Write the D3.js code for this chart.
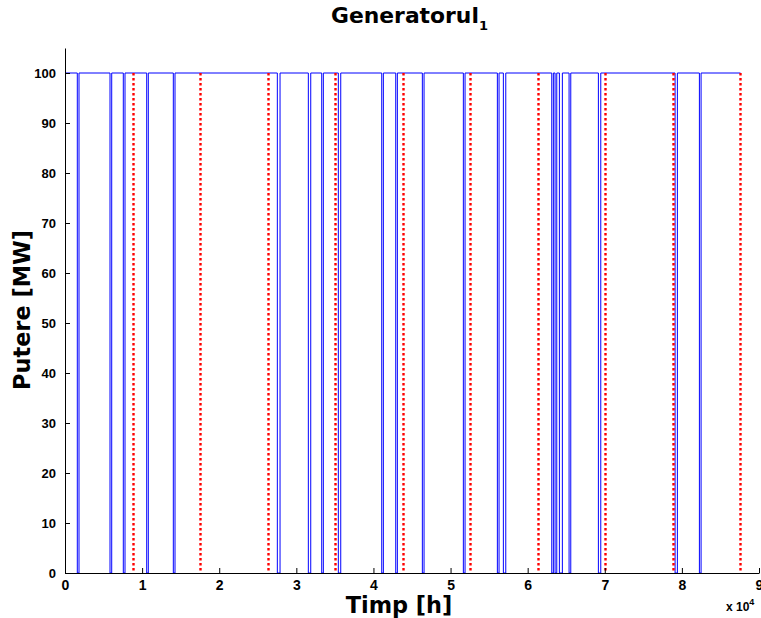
<!DOCTYPE html>
<html><head><meta charset="utf-8">
<script src="https://cdn.jsdelivr.net/npm/d3@7"></script>
<style>body{margin:0;background:#fff}svg{display:block;font-family:"Liberation Sans",Arial,sans-serif}</style>
</head><body>
<svg id="c" width="761" height="618"></svg>
<script>
const title = "Generatorul";
const titleSub = "1";
const xLabel = "Timp [h]";
const yLabel = "Putere [MW]";
const xTicks = [0,10000,20000,30000,40000,50000,60000,70000,80000,90000];
const xTickLabels = ["0","1","2","3","4","5","6","7","8","9"];
const yTicks = [0,10,20,30,40,50,60,70,80,90,100];
const capacity = 100;
const horizonEnd = 87600;
const outageStart = [1595,5837,7562,10597,14047,27536,31556,33294,35447,41077,42892,46342,51660,56070,56848,63126,63554,64112,65370,69170,79118,82270];
const outageEnd   = [1816,6057,7782,10804,14267,27886,31868,33502,35759,41284,43100,46563,51880,56290,57160,63333,63774,64501,65590,69481,79416,82490];
const yearMarks = [8760,17520,26280,35040,43800,52560,61320,70080,78840,87600];

const svg = d3.select("#c");
const x = d3.scaleLinear().domain([0,90000]).range([65,759]);
const y = d3.scaleLinear().domain([0,105]).range([573,48]);

// step series
const pts = [[0,capacity]];
outageStart.forEach((s,i)=>{
  pts.push([s,capacity],[s,0],[outageEnd[i],0],[outageEnd[i],capacity]);
});
pts.push([horizonEnd,capacity]);
const line = d3.line().x(d=>x(d[0])).y(d=>y(d[1]));
svg.append("path").attr("d",line(pts)).attr("fill","none")
  .attr("stroke","#0000ff").attr("stroke-width",1);

// year markers
svg.append("g").selectAll("line").data(yearMarks).join("line")
  .attr("x1",d=>Math.round(x(d))+0.5).attr("x2",d=>Math.round(x(d))+0.5)
  .attr("y1",y(capacity)).attr("y2",y(0)-2)
  .attr("stroke","#ff0000").attr("stroke-width",2.4)
  .attr("stroke-dasharray","2.4,2.6");

// axes
const xAxis = d3.axisBottom(x).tickValues(xTicks).tickSizeInner(-5).tickSizeOuter(0)
  .tickPadding(7).tickFormat((d,i)=>xTickLabels[i]);
const gx = svg.append("g").attr("transform",`translate(0,${y(0)})`).call(xAxis);
const yAxis = d3.axisLeft(y).tickValues(yTicks).tickSizeInner(-5).tickSizeOuter(0).tickPadding(9);
const gy = svg.append("g").attr("transform",`translate(${x(0)},0)`).call(yAxis);
[gx,gy].forEach(g=>{
  g.select(".domain").attr("stroke","#000").attr("stroke-width",1);
  g.selectAll(".tick line").attr("stroke","#000");
  g.selectAll("text").attr("font-size",13).attr("font-weight","bold").attr("fill","#000")
    .attr("font-family","Liberation Sans, Arial, sans-serif");
});
gx.selectAll("text").attr("font-size",14);

const bigFont = "DejaVu Sans, Verdana, sans-serif";
// labels
const yl = svg.append("text").attr("transform","translate(30,310) rotate(-90)").attr("text-anchor","middle")
  .attr("font-family",bigFont).attr("font-size",20).attr("font-weight","bold").text(yLabel);
const lfs = 20*160/yl.node().getComputedTextLength();
yl.attr("font-size",lfs);
svg.append("text").attr("x",399).attr("y",613).attr("text-anchor","middle")
  .attr("font-family",bigFont).attr("font-size",lfs).attr("font-weight","bold").text(xLabel);
const t = svg.append("text").attr("x",331).attr("y",23)
  .attr("font-family",bigFont).attr("font-size",16).attr("font-weight","bold");
const t1 = t.append("tspan").text(title);
const tw = t1.node().getComputedTextLength();
t.attr("font-size",16*148/tw);
t.append("tspan").attr("dy",7).attr("font-size",13).text(titleSub);
const ex = svg.append("text").attr("x",726).attr("y",611).attr("font-size",12).attr("font-weight","bold");
ex.append("tspan").text("x 10");
ex.append("tspan").attr("dy",-6).attr("font-size",9).text("4");
</script>
</body></html>
